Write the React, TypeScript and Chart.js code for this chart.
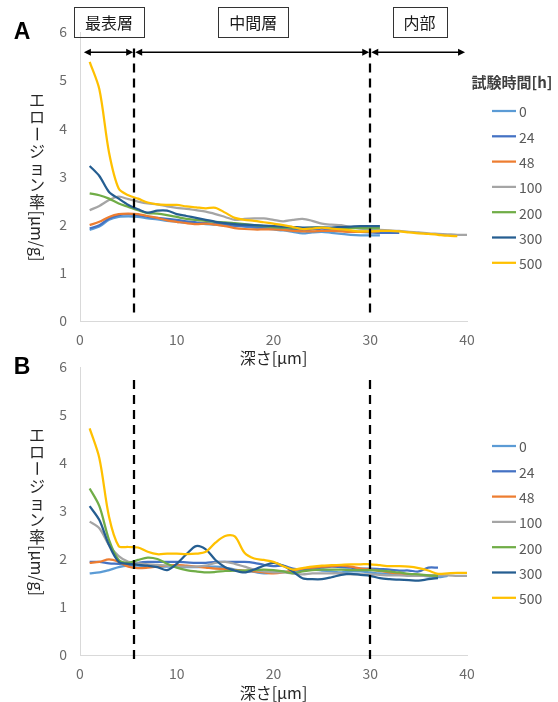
import React, { useEffect, useRef } from 'react';
import { Chart, registerables } from 'chart.js';

Chart.register(...registerables);

// ---------- data ----------
const DEPTHS = [1, 2, 3, 4, 5, 6, 7, 8, 9, 10, 11, 12, 13, 14, 15, 16, 17, 18, 19, 20, 21, 22, 23, 24, 25, 26, 27, 28, 29, 30, 31, 32, 33, 34, 35, 36, 37, 38, 39, 40];
const TIMES = ['0', '24', '48', '100', '200', '300', '500'];
const COLORS = ['#5B9BD5', '#4472C4', '#ED7D31', '#A5A5A5', '#70AD47', '#255E91', '#FFC000'];
const X_TICKS = [0, 10, 20, 30, 40];
const Y_TICKS = [0, 1, 2, 3, 4, 5, 6];
const LAYER_NAMES = ['最表層', '中間層', '内部'];
const LAYER_BOUNDS = [5.6, 30];

// Panel A
const A_0 = [1.89, 1.96, 2.10, 2.16, 2.17, 2.16, 2.13, 2.11, 2.08, 2.06, 2.04, 2.03, 2.01, 2.00, 1.98, 1.97, 1.96, 1.94, 1.92, 1.90, 1.88, 1.85, 1.82, 1.84, 1.85, 1.83, 1.81, 1.79, 1.78, 1.78, 1.78];
const A_24 = [1.92, 1.99, 2.13, 2.20, 2.22, 2.20, 2.16, 2.14, 2.12, 2.10, 2.07, 2.05, 2.03, 2.02, 2.00, 1.98, 1.97, 1.96, 1.95, 1.94, 1.93, 1.90, 1.88, 1.90, 1.92, 1.90, 1.88, 1.86, 1.85, 1.84, 1.83, 1.83, 1.83];
const A_48 = [1.99, 2.06, 2.16, 2.22, 2.23, 2.22, 2.18, 2.14, 2.09, 2.06, 2.03, 2.01, 2.02, 2.00, 1.97, 1.93, 1.91, 1.90, 1.90, 1.90, 1.89, 1.87, 1.86, 1.86, 1.87, 1.87, 1.86, 1.85, 1.85, 1.86, 1.86];
const A_100 = [2.30, 2.39, 2.51, 2.58, 2.53, 2.48, 2.44, 2.42, 2.38, 2.35, 2.33, 2.30, 2.27, 2.22, 2.16, 2.10, 2.12, 2.13, 2.13, 2.10, 2.07, 2.10, 2.12, 2.08, 2.02, 2.00, 1.99, 1.95, 1.92, 1.90, 1.89, 1.88, 1.87, 1.85, 1.84, 1.82, 1.81, 1.80, 1.79, 1.79];
const A_200 = [2.65, 2.61, 2.54, 2.44, 2.37, 2.30, 2.24, 2.23, 2.20, 2.16, 2.12, 2.10, 2.08, 2.06, 2.05, 2.03, 2.01, 1.99, 1.97, 1.95, 1.94, 1.93, 1.93, 1.94, 1.94, 1.93, 1.93, 1.93, 1.93, 1.93, 1.93];
const A_300 = [3.22, 3.01, 2.68, 2.54, 2.41, 2.32, 2.25, 2.29, 2.29, 2.22, 2.18, 2.14, 2.10, 2.06, 2.03, 2.01, 2.00, 1.99, 1.98, 1.97, 1.96, 1.95, 1.94, 1.94, 1.94, 1.94, 1.95, 1.96, 1.97, 1.97, 1.97];
const A_500 = [5.38, 4.81, 3.50, 2.75, 2.61, 2.54, 2.46, 2.42, 2.41, 2.41, 2.38, 2.36, 2.34, 2.35, 2.25, 2.14, 2.10, 2.08, 2.05, 2.02, 1.99, 1.95, 1.91, 1.92, 1.94, 1.92, 1.90, 1.88, 1.86, 1.86, 1.87, 1.87, 1.86, 1.84, 1.82, 1.81, 1.79, 1.77, 1.76];

// Panel B
const B_0 = [1.70, 1.72, 1.77, 1.83, 1.86, 1.86, 1.85, 1.84, 1.84, 1.84, 1.83, 1.83, 1.84, 1.84, 1.82, 1.78, 1.75, 1.73, 1.70, 1.72, 1.74, 1.72, 1.76, 1.78, 1.76, 1.74, 1.72, 1.74, 1.74, 1.72, 1.70, 1.69, 1.68, 1.68, 1.66, 1.64, 1.62, 1.65];
const B_24 = [1.94, 1.94, 1.91, 1.90, 1.88, 1.92, 1.94, 1.94, 1.94, 1.94, 1.93, 1.92, 1.92, 1.94, 1.94, 1.94, 1.94, 1.92, 1.88, 1.85, 1.86, 1.80, 1.78, 1.80, 1.82, 1.84, 1.83, 1.82, 1.80, 1.80, 1.79, 1.78, 1.76, 1.76, 1.74, 1.82, 1.82];
const B_48 = [1.92, 1.94, 1.99, 1.94, 1.84, 1.81, 1.82, 1.84, 1.86, 1.88, 1.86, 1.84, 1.82, 1.80, 1.79, 1.77, 1.76, 1.74, 1.72, 1.70, 1.72, 1.76, 1.80, 1.82, 1.84, 1.85, 1.86, 1.84, 1.80, 1.78, 1.75, 1.72, 1.69, 1.68, 1.67, 1.66, 1.65];
const B_100 = [2.78, 2.64, 2.29, 2.06, 1.94, 1.91, 1.89, 1.88, 1.86, 1.84, 1.84, 1.84, 1.86, 1.92, 1.94, 1.90, 1.84, 1.78, 1.74, 1.72, 1.72, 1.70, 1.68, 1.70, 1.70, 1.70, 1.70, 1.68, 1.68, 1.68, 1.67, 1.66, 1.66, 1.65, 1.65, 1.66, 1.66, 1.66, 1.65, 1.65];
const B_200 = [3.47, 3.10, 2.40, 1.98, 1.92, 1.98, 2.03, 2.00, 1.90, 1.82, 1.77, 1.74, 1.72, 1.73, 1.75, 1.76, 1.76, 1.77, 1.78, 1.77, 1.74, 1.70, 1.74, 1.77, 1.78, 1.78, 1.78, 1.77, 1.77, 1.77, 1.76, 1.74, 1.72, 1.69, 1.68, 1.66, 1.65];
const B_300 = [3.10, 2.81, 2.29, 1.94, 1.90, 1.88, 1.86, 1.83, 1.77, 1.90, 2.10, 2.27, 2.20, 1.98, 1.83, 1.76, 1.72, 1.78, 1.86, 1.92, 1.86, 1.74, 1.60, 1.58, 1.58, 1.62, 1.67, 1.69, 1.67, 1.65, 1.60, 1.58, 1.57, 1.56, 1.55, 1.58, 1.60];
const B_500 = [4.72, 4.10, 2.88, 2.27, 2.25, 2.24, 2.15, 2.10, 2.11, 2.11, 2.10, 2.11, 2.15, 2.34, 2.48, 2.47, 2.13, 2.01, 1.98, 1.94, 1.85, 1.78, 1.81, 1.84, 1.86, 1.87, 1.88, 1.89, 1.89, 1.89, 1.87, 1.85, 1.85, 1.84, 1.81, 1.76, 1.69, 1.70, 1.71, 1.71];

const SERIES_A = [A_0, A_24, A_48, A_100, A_200, A_300, A_500];
const SERIES_B = [B_0, B_24, B_48, B_100, B_200, B_300, B_500];

// ---------- styling ----------
const FAMILY = '"Noto Sans CJK JP", "Noto Sans", sans-serif';
const W = 558;

function drawVerticalTitle(ctx: CanvasRenderingContext2D, x: number, yCenter: number) {
  const upright = 'エロージョン率';
  const rotated = '[μm/g]';
  const pitch = 17;
  ctx.save();
  ctx.font = `16px ${FAMILY}`;
  ctx.fillStyle = '#262626';
  const rotW = ctx.measureText(rotated).width;
  const total = upright.length * pitch + rotW;
  let y = yCenter - total / 2;
  ctx.textAlign = 'center';
  ctx.textBaseline = 'middle';
  for (const ch of upright) {
    if (ch === 'ー') {
      ctx.save();
      ctx.translate(x, y + pitch / 2);
      ctx.rotate(Math.PI / 2);
      ctx.fillText(ch, 0, 0);
      ctx.restore();
    } else {
      ctx.fillText(ch, x, y + pitch / 2);
    }
    y += pitch;
  }
  ctx.save();
  ctx.translate(x, y);
  ctx.rotate(Math.PI / 2);
  ctx.textAlign = 'left';
  ctx.textBaseline = 'middle';
  ctx.fillText(rotated, 0, 0);
  ctx.restore();
  ctx.restore();
}

function arrowHead(ctx: CanvasRenderingContext2D, x: number, y: number, dir: number) {
  ctx.beginPath();
  ctx.moveTo(x, y);
  ctx.lineTo(x - dir * 7, y - 3.5);
  ctx.lineTo(x - dir * 7, y + 3.5);
  ctx.closePath();
  ctx.fill();
}

const decorPlugin = {
  id: 'decor',
  afterDatasetsDraw(chart: any, _args: any, opts: any) {
    const { ctx, scales } = chart;
    const x = scales.x;
    const y = scales.y;
    ctx.save();
    ctx.strokeStyle = '#000';
    ctx.lineWidth = 2.25;
    ctx.setLineDash([9, 6]);
    for (const b of LAYER_BOUNDS) {
      const px = Math.round(x.getPixelForValue(b));
      ctx.beginPath();
      ctx.moveTo(px, y.getPixelForValue(opts.dashTop));
      ctx.lineTo(px, y.getPixelForValue(opts.dashBottom));
      ctx.stroke();
    }
    ctx.restore();
  },
  afterDraw(chart: any, _args: any, opts: any) {
    const { ctx, chartArea, scales } = chart;
    const x = scales.x;
    const y = scales.y;
    ctx.save();

    // panel letter
    ctx.font = `bold 23px "Liberation Sans", Arial, sans-serif`;
    ctx.fillStyle = '#000';
    ctx.textAlign = 'center';
    ctx.textBaseline = 'middle';
    ctx.fillText(opts.letter, 22, chartArea.top + 1);

    // y title
    drawVerticalTitle(ctx, 37, (chartArea.top + chartArea.bottom) / 2 + opts.titleShift);

    // x title
    ctx.font = `16px ${FAMILY}`;
    ctx.fillStyle = '#262626';
    ctx.textAlign = 'center';
    ctx.textBaseline = 'middle';
    ctx.fillText('深さ[μm]', (chartArea.left + chartArea.right) / 2, chartArea.bottom + opts.xTitleGap);

    if (opts.layers) {
      // boxes
      ctx.font = `16px ${FAMILY}`;
      const boxCenters = [3.0, 17.9, 35.1];
      const by = chartArea.top - 10;
      LAYER_NAMES.forEach((name, i) => {
        const cx = x.getPixelForValue(boxCenters[i]);
        const tw = ctx.measureText(name).width;
        const bw = Math.round(tw + 22);
        const left = Math.round(cx - bw / 2) + 0.5;
        ctx.strokeStyle = '#333';
        ctx.lineWidth = 1;
        ctx.strokeRect(left, Math.round(by - 15) + 0.5, bw, 30);
        ctx.fillStyle = '#1a1a1a';
        ctx.fillText(name, cx, by + 1);
      });
      // arrows
      const ay = y.getPixelForValue(5.58);
      const segs = [[0.3, LAYER_BOUNDS[0]], [LAYER_BOUNDS[0], LAYER_BOUNDS[1]], [LAYER_BOUNDS[1], 39.9]];
      ctx.strokeStyle = '#000';
      ctx.fillStyle = '#000';
      ctx.lineWidth = 1.5;
      for (const [s, e] of segs) {
        const x1 = x.getPixelForValue(s) + 1;
        const x2 = x.getPixelForValue(e) - 1;
        ctx.beginPath();
        ctx.moveTo(x1 + 3, ay);
        ctx.lineTo(x2 - 3, ay);
        ctx.stroke();
        arrowHead(ctx, x1, ay, -1);
        arrowHead(ctx, x2, ay, 1);
      }
    }

    // legend
    const lx1 = 492;
    const lx2 = 516;
    let ly = chartArea.top + 79;
    if (opts.legendTitle) {
      ctx.font = `bold 15px ${FAMILY}`;
      ctx.fillStyle = '#404040';
      ctx.textAlign = 'center';
      ctx.fillText('試験時間[h]', 512, chartArea.top + 50);
    }
    ctx.font = `14px ${FAMILY}`;
    ctx.textAlign = 'left';
    chart.data.datasets.forEach((ds: any) => {
      ctx.strokeStyle = ds.borderColor;
      ctx.lineWidth = 2.25;
      ctx.beginPath();
      ctx.moveTo(lx1, ly);
      ctx.lineTo(lx2, ly);
      ctx.stroke();
      ctx.fillStyle = '#595959';
      ctx.fillText(ds.label, lx2 + 3, ly + 1);
      ly += 25.3;
    });
    ctx.restore();
  },
};

function makeConfig(series: number[][], decor: any, height: number): any {
  const datasets = series.map((vals, i) => ({
    label: TIMES[i],
    data: vals.map((v, j) => ({ x: DEPTHS[j], y: v })),
    borderColor: COLORS[i],
    backgroundColor: COLORS[i],
    borderWidth: 2.25,
    pointRadius: 0,
    tension: 0.3,
    fill: false,
    order: series.length - i,
  }));
  const tickFont = { family: FAMILY, size: 14 };
  return {
    type: 'line',
    data: { datasets },
    plugins: [decorPlugin],
    options: {
      animation: false,
      responsive: false,
      maintainAspectRatio: false,
      events: [],
      layout: { padding: { left: 0, right: 91, top: decor.top, bottom: 0 } },
      plugins: {
        legend: { display: false },
        tooltip: { enabled: false },
        decor,
      },
      scales: {
        x: {
          type: 'linear',
          min: 0,
          max: 40,
          grid: { display: false, drawTicks: false },
          border: { display: true, color: '#d9d9d9', width: 1 },
          ticks: { color: '#6b6b6b', font: tickFont, padding: 10, maxRotation: 0 },
          afterBuildTicks: (s: any) => { s.ticks = X_TICKS.map((v) => ({ value: v })); },
          afterFit: (s: any) => { s.height = height - decor.bottom; },
        },
        y: {
          type: 'linear',
          min: 0,
          max: 6,
          grid: { display: false, drawTicks: false },
          border: { display: true, color: '#d9d9d9', width: 1 },
          ticks: { color: '#6b6b6b', font: tickFont, padding: 13 },
          afterBuildTicks: (s: any) => { s.ticks = Y_TICKS.map((v) => ({ value: v })); },
          afterFit: (s: any) => { s.width = 80; },
        },
      },
    },
  };
}

function Panel({ series, decor, top, height }: { series: number[][]; decor: any; top: number; height: number }) {
  const ref = useRef<HTMLCanvasElement | null>(null);
  useEffect(() => {
    if (!ref.current) return;
    const chart = new Chart(ref.current, makeConfig(series, decor, height));
    return () => chart.destroy();
  }, []);
  return (
    <canvas
      ref={ref}
      width={W}
      height={height}
      style={{ position: 'absolute', left: 0, top, width: W, height }}
    />
  );
}

export default function App() {
  return (
    <div style={{ position: 'absolute', left: 0, top: 0, width: W, height: 702, background: '#fff' }}>
      <Panel
        series={SERIES_A}
        top={0}
        height={372}
        decor={{ letter: 'A', top: 32, bottom: 321, layers: true, legendTitle: true, dashTop: 5.66, dashBottom: 0.12, titleShift: 0, xTitleGap: 37 }}
      />
      <Panel
        series={SERIES_B}
        top={340}
        height={362}
        decor={{ letter: 'B', top: 27, bottom: 315, layers: false, legendTitle: false, dashTop: 5.73, dashBottom: -0.1, titleShift: 0, xTitleGap: 38 }}
      />
    </div>
  );
}
